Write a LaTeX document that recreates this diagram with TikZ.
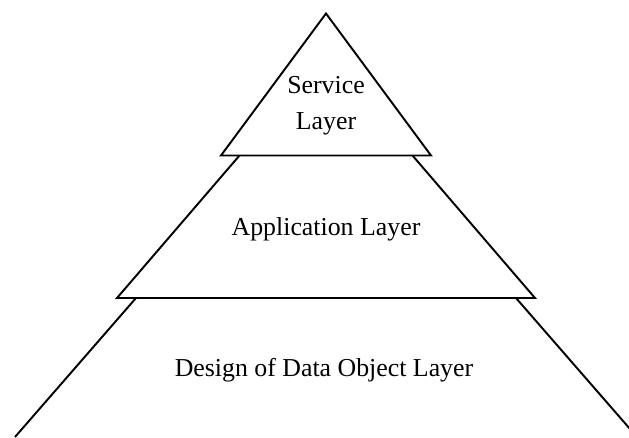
\documentclass[tikz,border=0pt]{standalone}
\usepackage{fontspec}
\setmainfont{Liberation Serif}
\usepackage{tikz}
\usetikzlibrary{positioning,calc}

\tikzset{
    layer/.style={line width=1.1pt, line join=miter},
    layerlabel/.style={font=\fontsize{14.7}{20.4}\selectfont, inner sep=0pt, align=center}
}

\begin{document}
\begin{tikzpicture}

    \clip (0,0) rectangle (12.58,8.74);

    % ---------------- Service layer ----------------
    \draw[layer] (6.52,8.47) -- (8.62,5.63) -- (4.42,5.63) -- cycle;
    \node[layerlabel] (service) at (6.52,6.62) {Service\\Layer};

    % ---------------- Application layer ----------------
    \draw[layer] (4.79,5.63) -- (2.34,2.78) -- (10.70,2.78) -- (8.25,5.63);
    \node[layerlabel, anchor=base] (application) at (6.52,4.04) {Application Layer};

    % ---------------- Data object layer ----------------
    \draw[layer] (2.72,2.78) -- (0.30,0);
    \draw[layer] (10.32,2.78) -- (12.74,0);
    \node[layerlabel, anchor=base] (dataobject) at (6.48,1.21) {Design of Data Object Layer};

\end{tikzpicture}
\end{document}
